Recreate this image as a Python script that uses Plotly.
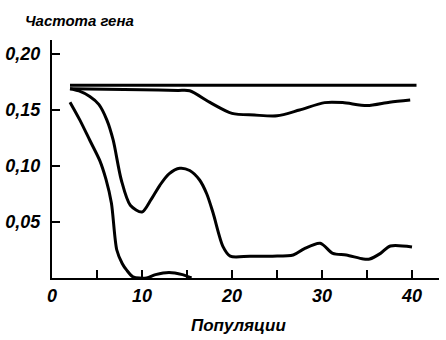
import plotly.graph_objects as go

# Data
x1 = [2, 40.5]
y1 = [0.172, 0.172]

x2 = [2, 6, 10, 14, 15.3, 17.5, 20, 22.5, 25, 27.5, 30.3, 32.3, 35, 37.5, 39.8]
y2 = [0.169, 0.1685, 0.168, 0.1675, 0.1672, 0.157, 0.147, 0.1455, 0.1448, 0.150, 0.1566, 0.1566, 0.154, 0.157, 0.159]

x3 = [2, 3, 4.2, 5.2, 6.1, 6.8, 7.7, 8.7, 10, 11, 12, 13, 14.2, 15.3, 16.4, 17.2, 17.9, 19, 19.8, 22, 24.5, 26.8, 28, 29.8, 31.2, 32.7, 34.6, 35.3, 36.5, 37.6, 40]
y3 = [0.169, 0.167, 0.162, 0.155, 0.141, 0.123, 0.0875, 0.065, 0.059, 0.070, 0.083, 0.093, 0.098, 0.096, 0.0875, 0.075, 0.058, 0.028, 0.0195, 0.0195, 0.0195, 0.0205, 0.026, 0.031, 0.022, 0.0205, 0.017, 0.017, 0.022, 0.0286, 0.0277]

x4 = [2, 3.1, 4.2, 5.3, 6.0, 6.6, 7.2, 7.8, 8.3, 9, 10.5, 11.5, 13, 14.5, 15.5]
y4 = [0.157, 0.141, 0.123, 0.105, 0.088, 0.067, 0.025, 0.013, 0.007, 0.001, 0.0, 0.003, 0.005, 0.003, 0.0]

xticks = [0, 5, 10, 15, 20, 25, 30, 35, 40]
xticktext = ['0', '', '10', '', '20', '', '30', '', '40']
yticks = [0.05, 0.10, 0.15, 0.20]
yticktext = ['0,05', '0,10', '0,15', '0,20']

FONT = "Liberation Sans, Arial, sans-serif"

fig = go.Figure()
for xs, ys in [(x1, y1), (x2, y2), (x3, y3), (x4, y4)]:
    fig.add_trace(go.Scatter(x=xs, y=ys, mode='lines',
                             line=dict(color='black', width=3, shape='spline', smoothing=0.8),
                             showlegend=False, hoverinfo='skip'))

tickfont = dict(family=FONT, size=18, color='black', style='italic', weight='bold')

fig.update_layout(
    width=446, height=340,
    margin=dict(l=52, r=7, t=40, b=62),
    paper_bgcolor='white', plot_bgcolor='white',
    xaxis=dict(range=[0, 43], showgrid=False, zeroline=False, automargin=False,
               showline=True, linecolor='black', linewidth=2,
               ticks='inside', ticklen=8, tickwidth=2, tickcolor='black',
               tickvals=xticks, ticktext=xticktext, ticklabelstandoff=0,
               tickfont=tickfont),
    yaxis=dict(range=[0, 0.2125], showgrid=False, zeroline=False, automargin=False,
               showline=True, linecolor='black', linewidth=2,
               ticks='inside', ticklen=8, tickwidth=2, tickcolor='black',
               tickvals=yticks, ticktext=yticktext, ticklabelstandoff=6,
               tickfont=tickfont),
    annotations=[
        dict(text='Частота гена', xref='paper', yref='paper', x=-0.074, y=1.0,
             yshift=20, xanchor='left', yanchor='middle', showarrow=False,
             font=dict(family=FONT, size=15, color='black', style='italic', weight='bold')),
        dict(text='Популяции', xref='paper', yref='paper', x=0.483, y=0,
             yshift=-47, xanchor='center', yanchor='middle', showarrow=False,
             font=dict(family=FONT, size=17, color='black', style='italic', weight='bold')),
    ],
)

fig.write_html("out.html", config={'displayModeBar': False},
               post_script="document.body.style.margin='0';document.body.style.padding='0';")
